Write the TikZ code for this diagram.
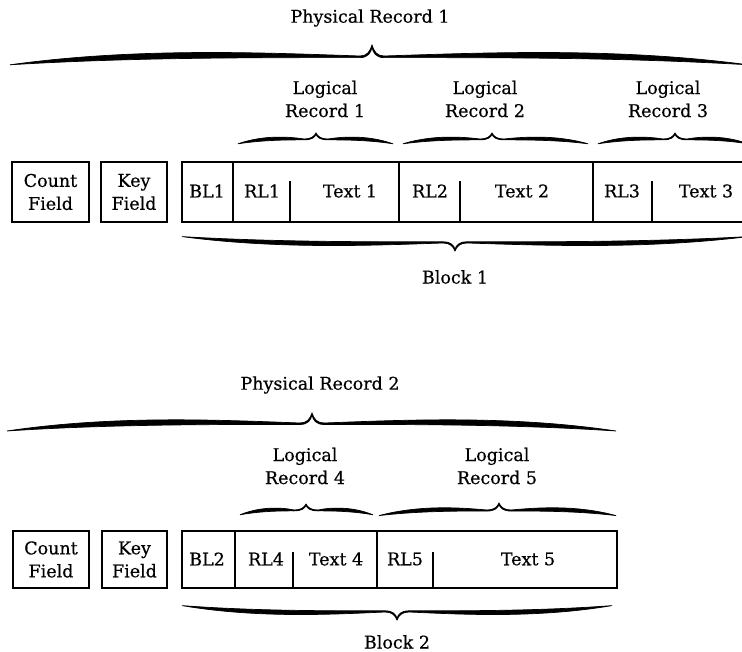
\documentclass[tikz,border=0pt]{standalone}
\usepackage{fontspec}
\setmainfont{DejaVu Serif}[FakeBold=0.5]
\tikzset{
  field/.style={draw, line width=1.3pt, align=center, inner sep=0pt},
  lbl/.style={align=center},
  boxline/.style={line width=1.3pt},
}
% brace: left x, right x, base y, tip x, direction (1 up, -1 down), size
\newcommand{\recbrace}[6]{%
  \filldraw[line width=0.7pt]
    ({#1},{#3+(#5)*(#6)*8})
    .. controls ({#1+0.35*(#4-#1)},{#3-(#5)*(#6)*8}) and ({#4-0.3*(#4-#1)},{#3-(#5)*(#6)*3}) .. ({#4-12},{#3})
    .. controls ({#4-5},{#3}) and ({#4-2},{#3-(#5)*(#6)*4}) .. ({#4},{#3-(#5)*(#6)*10})
    .. controls ({#4+2},{#3-(#5)*(#6)*4}) and ({#4+5},{#3}) .. ({#4+12},{#3})
    .. controls ({#4+0.3*(#2-#4)},{#3-(#5)*(#6)*3}) and ({#2-0.35*(#2-#4)},{#3-(#5)*(#6)*8}) .. ({#2},{#3+(#5)*(#6)*8})
    .. controls ({#2-0.35*(#2-#4)},{#3+(#5)*(#6)*1}) and ({#4+0.3*(#2-#4)},{#3+(#5)*(#6)*1.5}) .. ({#4+12},{#3+(#5)*(#6)*1.5})
    .. controls ({#4+4},{#3+(#5)*(#6)*1.5}) and ({#4+1},{#3-(#5)*(#6)*3}) .. ({#4},{#3-(#5)*(#6)*8})
    .. controls ({#4-1},{#3-(#5)*(#6)*3}) and ({#4-4},{#3+(#5)*(#6)*1.5}) .. ({#4-12},{#3+(#5)*(#6)*1.5})
    .. controls ({#4-0.3*(#4-#1)},{#3+(#5)*(#6)*1.5}) and ({#1+0.35*(#4-#1)},{#3+(#5)*(#6)*1}) .. cycle;
}
\begin{document}
\begin{tikzpicture}[x=1pt,y=-1pt,font=\fontsize{17.5}{23}\selectfont]
\useasboundingbox (0,0) rectangle (742,652);
% physical record 1
\node (phys1) at (370,18) {Physical Record 1};
\recbrace{10}{748}{56}{372}{1}{1.1}
\node[lbl] (log1) at (325,99) {Logical\\Record 1};
\node[lbl] (log2) at (485,99) {Logical\\Record 2};
\node[lbl] (log3) at (668,99) {Logical\\Record 3};
\recbrace{238}{393}{139}{316}{1}{0.6}
\recbrace{403}{588}{139}{492}{1}{0.6}
\recbrace{598}{748}{139}{675}{1}{0.6}
\node[field, minimum width=77, minimum height=60] (count1) at (50.5,192) {Count\\Field};
\node[field, minimum width=66, minimum height=60] (key1) at (134,192) {Key\\Field};
\draw[boxline] (182,162) rectangle (760,222);
\draw[boxline] (233,162) -- (233,222);
\draw[boxline] (290,181) -- (290,222);
\draw[boxline] (399,162) -- (399,222);
\draw[boxline] (460,181) -- (460,222);
\draw[boxline] (593,162) -- (593,222);
\draw[boxline] (652,181) -- (652,222);
\node (bl1) at (207,191) {BL1};
\node (rl1) at (262,191) {RL1};
\node (txt1) at (350,191) {Text 1};
\node (rl2) at (430,191) {RL2};
\node (txt2) at (522,191) {Text 2};
\node (rl3) at (622,191) {RL3};
\node (txt3) at (706,191) {Text 3};
\recbrace{182}{748}{243}{455}{-1}{0.8}
\node (blk1) at (455,277) {Block 1};
% physical record 2
\node (phys2) at (320,385) {Physical Record 2};
\recbrace{7}{616}{423}{312}{1}{1}
\node[lbl] (log4) at (305,466) {Logical\\Record 4};
\node[lbl] (log5) at (497,466) {Logical\\Record 5};
\recbrace{240}{373}{510}{306}{1}{0.6}
\recbrace{379}{616}{510}{499}{1}{0.7}
\node[field, minimum width=76, minimum height=57] (count2) at (51,559.5) {Count\\Field};
\node[field, minimum width=65, minimum height=57] (key2) at (134.5,559.5) {Key\\Field};
\draw[boxline] (182,531) rectangle (617,588);
\draw[boxline] (235,531) -- (235,588);
\draw[boxline] (293,552) -- (293,588);
\draw[boxline] (377,531) -- (377,588);
\draw[boxline] (433,552) -- (433,588);
\node (bl2) at (207,559) {BL2};
\node (rl4) at (266,559) {RL4};
\node (txt4) at (336,559) {Text 4};
\node (rl5) at (405,559) {RL5};
\node (txt5) at (528,559) {Text 5};
\recbrace{182}{612}{612}{397}{-1}{0.8}
\node (blk2) at (397,642) {Block 2};
\end{tikzpicture}
\end{document}
